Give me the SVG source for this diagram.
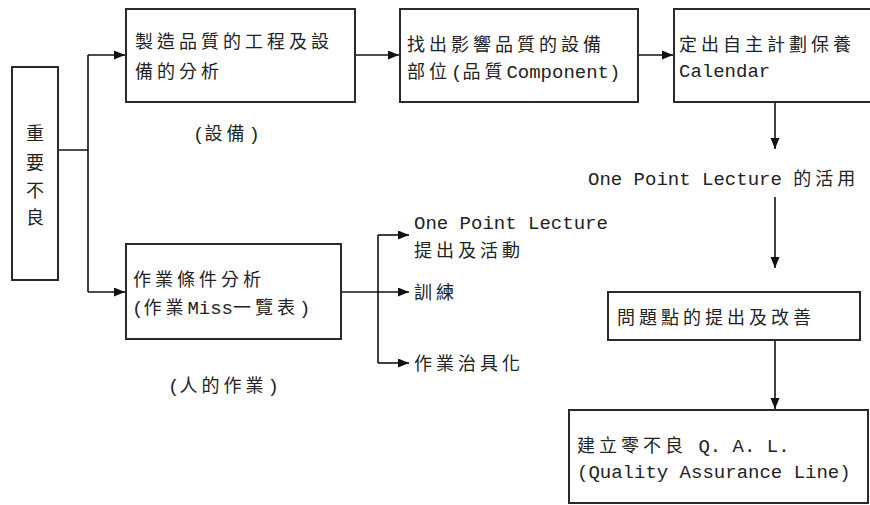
<svg xmlns="http://www.w3.org/2000/svg" width="870" height="505" viewBox="0 0 870 505">
<defs>
<style>
.box{fill:#fff;stroke:#2a2a2a;stroke-width:2}
.ln{fill:none;stroke:#111;stroke-width:1.6}
text{fill:#222}
.c{font-family:"Noto Sans CJK TC","Noto Sans CJK SC",sans-serif;font-size:18px;letter-spacing:4px}
.l{font-family:"Liberation Mono","DejaVu Sans Mono",monospace;font-size:19px}
</style>
<marker id="ah" markerUnits="userSpaceOnUse" markerWidth="12" markerHeight="10" refX="11" refY="4.5" orient="auto">
<path d="M0,0 L11,4.5 L0,9 z" fill="#111"/>
</marker>
</defs>
<rect x="0" y="0" width="870" height="505" fill="#fff"/>

<g id="connectors">
<path class="ln" d="M58,150 H88 M88,55 V292"/>
<path class="ln" d="M88,55 H125" marker-end="url(#ah)"/>
<path class="ln" d="M88,292 H125" marker-end="url(#ah)"/>
<path class="ln" d="M355,55 H399" marker-end="url(#ah)"/>
<path class="ln" d="M638,55 H673" marker-end="url(#ah)"/>
<path class="ln" d="M775,102 V149" marker-end="url(#ah)"/>
<path class="ln" d="M775,197 V268" marker-end="url(#ah)"/>
<path class="ln" d="M775,340 V409" marker-end="url(#ah)"/>
<path class="ln" d="M341,292 H409" marker-end="url(#ah)"/>
<path class="ln" d="M378,235 V363"/>
<path class="ln" d="M378,235 H409" marker-end="url(#ah)"/>
<path class="ln" d="M378,363 H409" marker-end="url(#ah)"/>
</g>

<g id="n-major-defect">
<rect class="box" x="12" y="67" width="46" height="213"/>
<text class="c" text-anchor="middle" style="letter-spacing:0"><tspan x="35" y="140">重</tspan><tspan x="35" y="169">要</tspan><tspan x="35" y="197">不</tspan><tspan x="35" y="224">良</tspan></text>
</g>

<g id="n-process-analysis">
<rect class="box" x="126" y="9" width="229" height="93"/>
<text class="c" x="135" y="48">製造品質的工程及設</text>
<text class="c" x="135" y="78">備的分析</text>
</g>
<text id="lbl-equip" x="193" y="140"><tspan class="l">(</tspan><tspan class="c">設備</tspan><tspan class="l">)</tspan></text>

<g id="n-find-parts">
<rect class="box" x="400" y="9" width="238" height="93"/>
<text class="c" x="407" y="51">找出影響品質的設備</text>
<text x="407" y="78"><tspan class="c">部位</tspan><tspan class="l">(</tspan><tspan class="c">品質</tspan><tspan class="l">Component)</tspan></text>
</g>

<g id="n-calendar">
<rect class="box" x="674" y="9" width="220" height="93"/>
<text class="c" x="679" y="51">定出自主計劃保養</text>
<text class="l" x="679" y="77">Calendar</text>
</g>

<text id="lbl-opl-use" x="588" y="185"><tspan class="l">One Point Lecture </tspan><tspan class="c">的活用</tspan></text>

<g id="n-problems">
<rect class="box" x="608" y="292" width="252" height="48"/>
<text class="c" x="617" y="324">問題點的提出及改善</text>
</g>

<g id="n-qal">
<rect class="box" x="569" y="410" width="299" height="93"/>
<text x="577" y="452"><tspan class="c">建立零不良</tspan><tspan class="l"> Q. A. L.</tspan></text>
<text class="l" x="577" y="478">(Quality Assurance Line)</text>
</g>

<g id="n-work-analysis">
<rect class="box" x="126" y="244" width="215" height="95"/>
<text class="c" x="133" y="286">作業條件分析</text>
<text x="132" y="314"><tspan class="l">(</tspan><tspan class="c">作業</tspan><tspan class="l">Miss</tspan><tspan class="c">一覽表</tspan><tspan class="l">)</tspan></text>
</g>
<text id="lbl-human" x="168" y="392"><tspan class="l">(</tspan><tspan class="c">人的作業</tspan><tspan class="l">)</tspan></text>

<g id="n-opl">
<text class="l" x="414" y="229">One Point Lecture</text>
<text class="c" x="414" y="257">提出及活動</text>
</g>
<g id="n-training">
<text class="c" x="414" y="299">訓練</text>
</g>
<g id="n-jig">
<text class="c" x="414" y="370">作業治具化</text>
</g>
</svg>
